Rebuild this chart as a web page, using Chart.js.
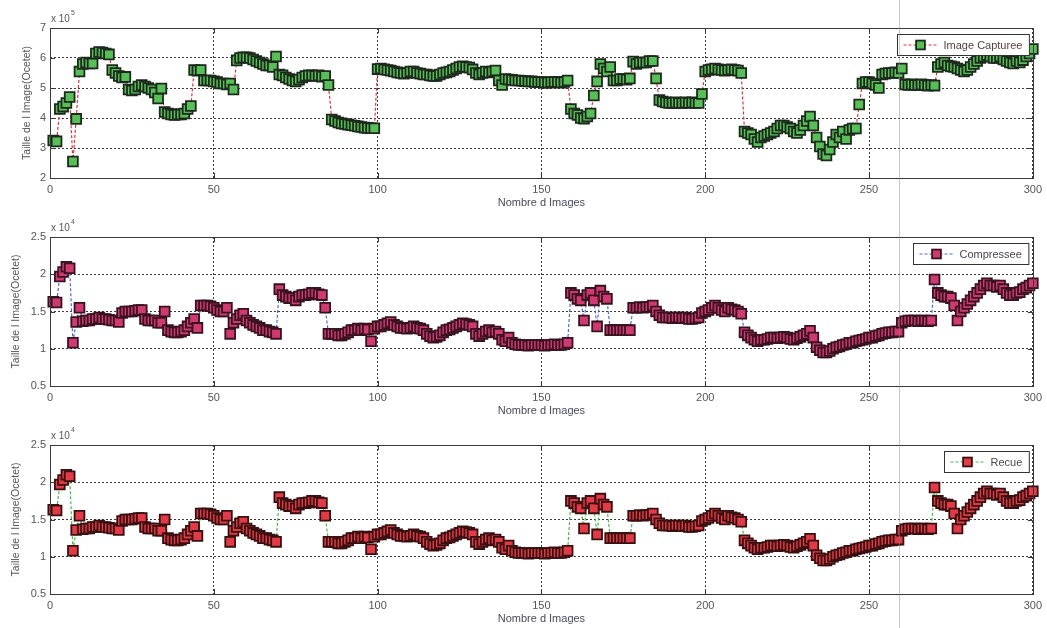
<!DOCTYPE html>
<html>
<head>
<meta charset="utf-8">
<script src="https://cdn.jsdelivr.net/npm/chart.js@4"></script>
<style>
  html, body { margin: 0; padding: 0; background: #fff; }
  body { width: 1047px; height: 628px; position: relative; overflow: hidden; }
  .panel { position: absolute; left: 0; width: 1047px; }
  #fold { position: absolute; left: 899px; top: 0; width: 1px; height: 628px; background: rgba(140,140,140,0.45); }
</style>
</head>
<body>
<div class="panel" style="top:0;height:218px"><canvas id="c1"></canvas></div>
<div class="panel" style="top:209px;height:217px"><canvas id="c2"></canvas></div>
<div class="panel" style="top:417px;height:217px"><canvas id="c3"></canvas></div>
<div id="fold"></div>
<script>
// Image numbers 1..300
const imageIndex = Array.from({ length: 300 }, (_, i) => i + 1);

// Captured image size, in units of 1e5 octets (images 1..300)
const captureSize = [
  3.25, 3.22, 4.30, 4.38, 4.50, 4.70, 2.55, 3.97, 5.55, 5.80,
  5.85, 5.82, 5.82, 6.15, 6.20, 6.18, 6.15, 6.12, 5.60, 5.50,
  5.40, 5.35, 5.37, 4.95, 4.92, 4.95, 5.05, 5.10, 5.05, 5.00,
  4.95, 4.85, 4.65, 4.98, 4.20, 4.15, 4.12, 4.10, 4.12, 4.12,
  4.15, 4.30, 4.40, 5.60, 5.58, 5.60, 5.25, 5.25, 5.25, 5.22,
  5.20, 5.15, 5.15, 5.12, 5.15, 4.95, 5.92, 6.00, 6.02, 6.02,
  6.00, 5.95, 5.90, 5.85, 5.80, 5.75, 5.75, 5.70, 6.05, 5.45,
  5.42, 5.35, 5.30, 5.25, 5.22, 5.28, 5.35, 5.40, 5.42, 5.42,
  5.40, 5.42, 5.38, 5.40, 5.10, 3.95, 3.90, 3.85, 3.82, 3.80,
  3.78, 3.76, 3.74, 3.72, 3.70, 3.68, 3.67, 3.66, 3.66, 5.63,
  5.65, 5.62, 5.60, 5.58, 5.55, 5.52, 5.50, 5.48, 5.50, 5.55,
  5.55, 5.50, 5.48, 5.45, 5.45, 5.42, 5.40, 5.40, 5.45, 5.50,
  5.52, 5.55, 5.60, 5.65, 5.70, 5.72, 5.70, 5.68, 5.62, 5.50,
  5.45, 5.50, 5.55, 5.52, 5.55, 5.58, 5.25, 5.10, 5.30, 5.28,
  5.27, 5.25, 5.25, 5.24, 5.23, 5.22, 5.22, 5.20, 5.20, 5.20,
  5.18, 5.18, 5.20, 5.20, 5.20, 5.18, 5.20, 5.25, 4.30, 4.15,
  4.10, 4.00, 3.98, 4.05, 4.15, 4.75, 5.22, 5.80, 5.65, 5.55,
  5.70, 5.25, 5.25, 5.30, 5.30, 5.28, 5.32, 5.88, 5.80, 5.85,
  5.85, 5.85, 5.90, 5.90, 5.32, 4.60, 4.55, 4.52, 4.50, 4.50,
  4.52, 4.50, 4.50, 4.52, 4.50, 4.52, 4.50, 4.50, 4.80, 5.55,
  5.60, 5.62, 5.65, 5.62, 5.60, 5.58, 5.60, 5.62, 5.60, 5.58,
  5.50, 3.55, 3.50, 3.45, 3.30, 3.20, 3.35, 3.40, 3.45, 3.50,
  3.55, 3.65, 3.75, 3.75, 3.70, 3.65, 3.55, 3.50, 3.60, 3.75,
  3.90, 4.05, 3.75, 3.35, 3.05, 2.80, 2.75, 2.95, 3.20, 3.45,
  3.35, 3.55, 3.30, 3.60, 3.65, 3.65, 4.45, 5.15, 5.20, 5.20,
  5.15, 5.10, 5.00, 5.45, 5.48, 5.50, 5.50, 5.52, 5.50, 5.65,
  5.12, 5.10, 5.12, 5.10, 5.10, 5.12, 5.10, 5.08, 5.10, 5.08,
  5.70, 5.80, 5.85, 5.75, 5.72, 5.70, 5.65, 5.60, 5.55, 5.60,
  5.70, 5.80, 5.90, 6.00, 6.05, 6.10, 6.05, 6.00, 6.00, 6.05,
  5.95, 5.90, 5.85, 5.82, 5.90, 5.85, 5.93, 6.05, 6.15, 6.30
];

// Compressed image size, in units of 1e4 octets
const compressedSize = [
  1.63, 1.62, 1.97, 2.03, 2.10, 2.08, 1.08, 1.36, 1.55, 1.37,
  1.38, 1.38, 1.40, 1.40, 1.42, 1.40, 1.40, 1.39, 1.38, 1.38,
  1.36, 1.48, 1.50, 1.50, 1.50, 1.51, 1.52, 1.52, 1.40, 1.38,
  1.38, 1.38, 1.35, 1.35, 1.50, 1.25, 1.23, 1.22, 1.22, 1.23,
  1.25, 1.30, 1.35, 1.40, 1.28, 1.58, 1.58, 1.58, 1.57, 1.55,
  1.52, 1.50, 1.50, 1.55, 1.20, 1.35, 1.40, 1.45, 1.47, 1.38,
  1.35, 1.32, 1.30, 1.28, 1.25, 1.25, 1.23, 1.22, 1.20, 1.80,
  1.72, 1.70, 1.68, 1.68, 1.65, 1.70, 1.72, 1.72, 1.73, 1.75,
  1.75, 1.73, 1.72, 1.55, 1.20, 1.20, 1.20, 1.18, 1.18, 1.20,
  1.22, 1.25, 1.25, 1.27, 1.25, 1.27, 1.26, 1.10, 1.27, 1.30,
  1.30, 1.32, 1.34, 1.36, 1.32, 1.30, 1.28, 1.28, 1.27, 1.28,
  1.30, 1.28, 1.27, 1.25, 1.20, 1.17, 1.15, 1.16, 1.18, 1.22,
  1.25, 1.26, 1.28, 1.30, 1.32, 1.34, 1.33, 1.32, 1.30, 1.20,
  1.17, 1.20, 1.23, 1.25, 1.22, 1.23, 1.20, 1.12, 1.10, 1.15,
  1.08, 1.06, 1.05, 1.05, 1.05, 1.04, 1.05, 1.05, 1.05, 1.05,
  1.04, 1.05, 1.05, 1.06, 1.05, 1.05, 1.06, 1.08, 1.75, 1.72,
  1.67, 1.65, 1.38, 1.72, 1.75, 1.65, 1.30, 1.78, 1.70, 1.67,
  1.25, 1.25, 1.25, 1.25, 1.25, 1.25, 1.25, 1.55, 1.55, 1.56,
  1.55, 1.56, 1.56, 1.58, 1.50, 1.45, 1.42, 1.42, 1.42, 1.41,
  1.42, 1.42, 1.41, 1.42, 1.40, 1.40, 1.41, 1.42, 1.48, 1.50,
  1.52, 1.55, 1.58, 1.55, 1.52, 1.50, 1.55, 1.53, 1.52, 1.50,
  1.47, 1.22, 1.18, 1.15, 1.12, 1.10, 1.12, 1.12, 1.13, 1.15,
  1.15, 1.14, 1.15, 1.16, 1.15, 1.13, 1.12, 1.14, 1.16, 1.18,
  1.20, 1.24, 1.15, 1.02, 0.98, 0.95, 0.95, 0.97, 1.00, 1.02,
  1.03, 1.05, 1.06, 1.08, 1.08, 1.10, 1.11, 1.12, 1.13, 1.15,
  1.15, 1.17, 1.18, 1.20, 1.21, 1.22, 1.22, 1.23, 1.23, 1.35,
  1.37, 1.38, 1.38, 1.38, 1.37, 1.38, 1.38, 1.37, 1.38, 1.93,
  1.75, 1.72, 1.70, 1.70, 1.68, 1.58, 1.38, 1.50, 1.55, 1.60,
  1.65, 1.70, 1.75, 1.80, 1.85, 1.88, 1.85, 1.85, 1.83, 1.85,
  1.80, 1.75, 1.72, 1.72, 1.75, 1.76, 1.80, 1.82, 1.85, 1.88
];

// Received image size, in units of 1e4 octets (same as the compressed stream)
const receivedSize = compressedSize.slice();

// Axis tick values
const xTickValues = [0, 50, 100, 150, 200, 250, 300];
const yTicksCapture = [2, 3, 4, 5, 6, 7];
const yTicksSmall = [0.5, 1, 1.5, 2, 2.5];

const FONT = '"Liberation Sans", Arial, sans-serif';
const TEXT = '#555';
const MARK = 9.8; // marker side in px

// Box around the axes, inward tick marks, exponent label and legend
const framePlugin = {
  id: 'frame',
  afterDatasetsDraw(chart, args, opts) {
    const { ctx, chartArea: a } = chart;
    const xs = chart.scales.x, ys = chart.scales.y;
    ctx.save();
    ctx.strokeStyle = '#3a3a3a';
    ctx.lineWidth = 1;
    ctx.setLineDash([]);
    ctx.strokeRect(Math.round(a.left) + 0.5, Math.round(a.top) + 0.5,
                   Math.round(a.right - a.left), Math.round(a.bottom - a.top));
    const t = 5;
    ctx.beginPath();
    xs.ticks.forEach(tk => {
      const px = Math.round(xs.getPixelForValue(tk.value)) + 0.5;
      ctx.moveTo(px, a.bottom); ctx.lineTo(px, a.bottom - t);
      ctx.moveTo(px, a.top); ctx.lineTo(px, a.top + t);
    });
    ys.ticks.forEach(tk => {
      const py = Math.round(ys.getPixelForValue(tk.value)) + 0.5;
      ctx.moveTo(a.left, py); ctx.lineTo(a.left + t, py);
      ctx.moveTo(a.right, py); ctx.lineTo(a.right - t, py);
    });
    ctx.stroke();

    // exponent above the y axis
    ctx.fillStyle = TEXT;
    ctx.textAlign = 'left';
    ctx.textBaseline = 'middle';
    ctx.font = '10px ' + FONT;
    ctx.fillText('x 10', a.left + 1, a.top - 9);
    const w = ctx.measureText('x 10').width;
    ctx.font = '7px ' + FONT;
    ctx.fillText(opts.exponent, a.left + w + 2, a.top - 15);

    // legend
    const ds = chart.data.datasets[0];
    ctx.font = '11px ' + FONT;
    const tw = ctx.measureText(ds.label).width;
    const padL = 6, lineLen = 34, gap = 6, padR = 7, h = 21;
    const bw = padL + lineLen + gap + tw + padR;
    const bx = Math.round(a.right - 4 - bw) + 0.5;
    const by = Math.round(a.top + 6) + 0.5;
    ctx.fillStyle = '#fff';
    ctx.fillRect(bx, by, bw, h);
    ctx.strokeStyle = '#333';
    ctx.lineWidth = 1;
    ctx.strokeRect(bx, by, bw, h);
    const cy = by + h / 2;
    ctx.strokeStyle = ds.borderColor;
    ctx.lineWidth = 1.2;
    ctx.setLineDash(ds.borderDash);
    ctx.beginPath();
    ctx.moveTo(bx + padL, cy); ctx.lineTo(bx + padL + lineLen, cy);
    ctx.stroke();
    ctx.setLineDash([]);
    const s = MARK - 1, mx = bx + padL + lineLen / 2;
    ctx.fillStyle = ds.pointBackgroundColor;
    ctx.fillRect(mx - s / 2, cy - s / 2, s, s);
    ctx.strokeStyle = ds.pointBorderColor;
    ctx.lineWidth = ds.pointBorderWidth;
    ctx.strokeRect(mx - s / 2, cy - s / 2, s, s);
    ctx.fillStyle = opts.legendText || '#444';
    ctx.font = '11px ' + FONT;
    ctx.fillText(ds.label, bx + padL + lineLen + gap, cy + 0.5);
    ctx.restore();
  }
};

function makePanel(canvasId, label, values, cfg) {
  return new Chart(document.getElementById(canvasId), {
    type: 'line',
    data: {
      datasets: [{
        label: label,
        data: imageIndex.map((n, i) => ({ x: n, y: values[i] })),
        borderColor: cfg.lineColor,
        borderWidth: 1.2,
        borderDash: [3, 2],
        tension: 0,
        pointStyle: 'rect',
        pointRadius: MARK / Math.SQRT2,
        pointBackgroundColor: cfg.fill,
        pointBorderColor: cfg.edge,
        pointBorderWidth: 1.8,
        clip: false
      }]
    },
    options: {
      responsive: true,
      maintainAspectRatio: false,
      animation: false,
      devicePixelRatio: 1,
      layout: { padding: { top: 28, right: 14, left: 0, bottom: 0 } },
      plugins: {
        legend: { display: false },
        tooltip: { enabled: false },
        frame: { exponent: cfg.exponent, legendText: cfg.legendText }
      },
      scales: {
        x: {
          type: 'linear',
          min: 0, max: 300,
          afterBuildTicks: s => { s.ticks = xTickValues.map(v => ({ value: v })); },
          afterFit: s => { s.height = 40; },
          grid: { color: '#3a3a3a', lineWidth: 1, drawTicks: false },
          border: { display: false, dash: [2, 2] },
          ticks: { color: TEXT, font: { family: FONT, size: 11 }, padding: 5, maxRotation: 0,
                   callback: v => String(v) },
          title: { display: true, text: 'Nombre d Images', color: '#4a4a5c',
                   font: { family: FONT, size: 11 }, padding: { top: 0, bottom: 8.4 } }
        },
        y: {
          type: 'linear',
          min: cfg.yMin, max: cfg.yMax,
          afterBuildTicks: s => { s.ticks = cfg.yTicks.map(v => ({ value: v })); },
          afterFit: s => { s.width = 50; },
          grid: { color: '#3a3a3a', lineWidth: 1, drawTicks: false },
          border: { display: false, dash: [2, 2] },
          ticks: { color: TEXT, font: { family: FONT, size: 11 }, padding: 4,
                   callback: v => String(v) },
          title: { display: true, text: 'Taille de l Image(Ocetet)', color: TEXT,
                   font: { family: FONT, size: 10.5 }, padding: { top: cfg.titlePad, bottom: 0 } }
        }
      }
    },
    plugins: [framePlugin]
  });
}

makePanel('c1', 'Image Capturee', captureSize, {
  lineColor: '#e8303a', fill: '#58bf58', edge: '#1c2a1c',
  yMin: 2, yMax: 7, yTicks: yTicksCapture, exponent: '5', titlePad: 20.7, legendText: '#5a4040'
});
makePanel('c2', 'Compressee', compressedSize, {
  lineColor: '#4a6ad0', fill: '#cf3a72', edge: '#38121f',
  yMin: 0.5, yMax: 2.5, yTicks: yTicksSmall, exponent: '4', titlePad: 10, legendText: '#4a4256'
});
makePanel('c3', 'Recue', receivedSize, {
  lineColor: '#44bb44', fill: '#e23a46', edge: '#381010',
  yMin: 0.5, yMax: 2.5, yTicks: yTicksSmall, exponent: '4', titlePad: 10, legendText: '#4a4a4a'
});
</script>
</body>
</html>
